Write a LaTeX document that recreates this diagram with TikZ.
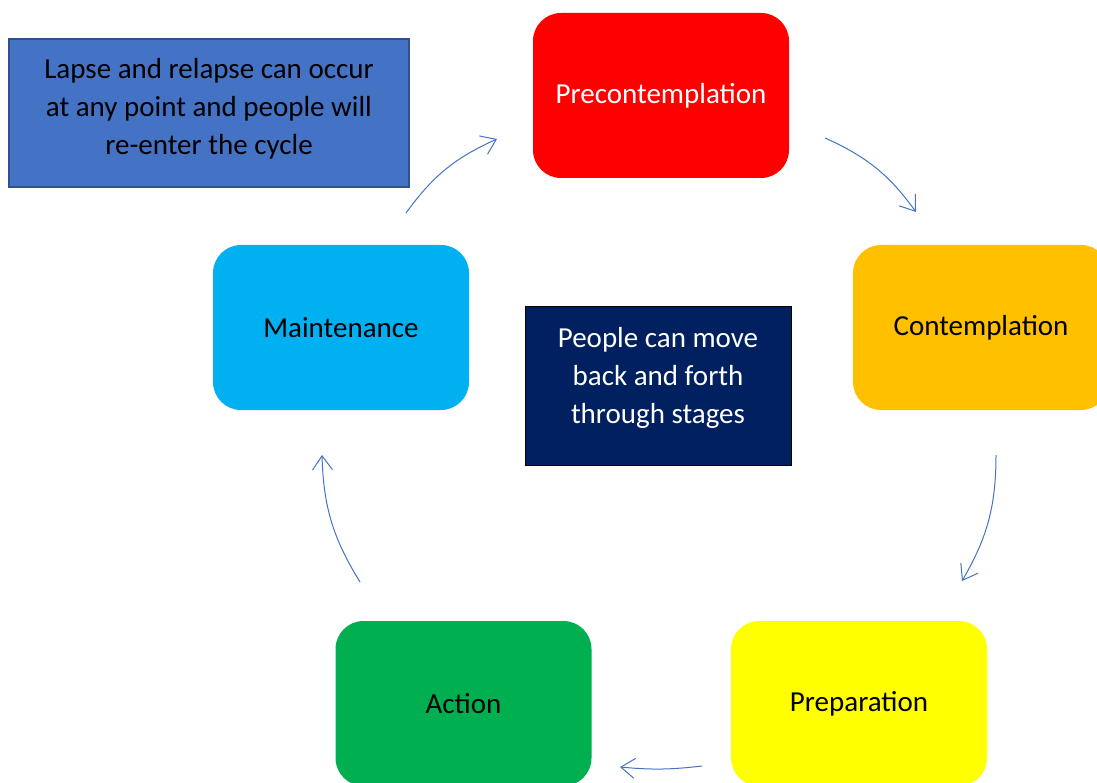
\documentclass[tikz,border=0pt]{standalone}
\usepackage{fontspec}
\setmainfont{Carlito}
\usetikzlibrary{arrows.meta}
\definecolor{cRed}{HTML}{FF0000}
\definecolor{cOrange}{HTML}{FFC000}
\definecolor{cCyan}{HTML}{00B0F0}
\definecolor{cGreen}{HTML}{00B050}
\definecolor{cYellow}{HTML}{FFFF00}
\definecolor{cNavy}{HTML}{002060}
\definecolor{cBlue}{HTML}{4472C4}
\definecolor{cBlueEdge}{HTML}{2F528F}
\begin{document}
\begin{tikzpicture}[x=1pt,y=-1pt,
  stage/.style={rounded corners=28pt, minimum width=256pt, minimum height=165pt, inner sep=0pt, font=\fontsize{29}{38}\selectfont, align=center},
  notetext/.style={inner sep=0pt, font=\fontsize{29}{38}\selectfont, align=center},
  cyc/.style={draw=cBlue, line width=1pt, -{Straight Barb[length=14pt,width=20pt,line width=1pt]}, bend left=15}
]
\useasboundingbox (0,0) rectangle (1097,783);
\clip (0,0) rectangle (1097,783);
\node[stage, fill=cRed, text=white] (pre) at (661,95.5) {Precontemplation};
\node[stage, fill=cOrange] (con) at (981,327.5) {Contemplation};
\node[stage, fill=cCyan] (mai) at (341,327.5) {Maintenance};
\node[stage, fill=cGreen] (act) at (463.5,703.5) {Action};
\node[stage, fill=cYellow] (prep) at (859,703.5) {Preparation};
\node[fill=cBlue, draw=cBlueEdge, line width=2pt, minimum width=400pt, minimum height=148pt, inner sep=0pt,
  label={[notetext, yshift=4pt]center:{Lapse and relapse can occur\\at any point and people will\\re-enter the cycle}}] (lapse) at (209,113) {};
\node[fill=cNavy, draw=black, line width=1pt, minimum width=266pt, minimum height=158pt, inner sep=0pt,
  label={[notetext, text=white, yshift=8pt]center:{People can move\\back and forth\\through stages}}] (move) at (658,386) {};
\coordinate (a1s) at (825,138);
\coordinate (a1e) at (916,212);
\coordinate (a2s) at (996,455);
\coordinate (a2e) at (962,581);
\coordinate (a3s) at (702,766);
\coordinate (a3e) at (620,767);
\coordinate (a4s) at (360,582);
\coordinate (a4e) at (322,455);
\coordinate (a5s) at (406,213);
\coordinate (a5e) at (497,139);
\draw[cyc] (a1s) to (a1e);
\draw[cyc] (a2s) to (a2e);
\draw[cyc, bend left=6] (a3s) to (a3e);
\draw[cyc] (a4s) to (a4e);
\draw[cyc] (a5s) to (a5e);
\end{tikzpicture}
\end{document}
